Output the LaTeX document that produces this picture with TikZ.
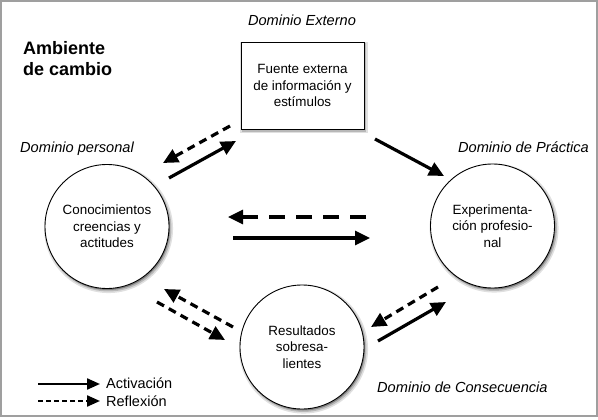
\documentclass[tikz,border=0pt]{standalone}
\usepackage{fontspec}
\setmainfont{Liberation Sans}
\usetikzlibrary{arrows.meta,shadows}
\begin{document}
\begin{tikzpicture}[x=1pt,y=-1pt,
  bodytext/.style={font=\fontsize{13.4}{16.5}\selectfont, align=center},
  dom/.style={font=\fontsize{14.6}{17}\selectfont\itshape, inner sep=0pt},
  shad/.style={
    drop shadow={shadow xshift=1.5pt,shadow yshift=-2pt,opacity=0.12,fill=black,shadow scale=1.04},
    drop shadow={shadow xshift=1.5pt,shadow yshift=-2pt,opacity=0.18,fill=black,shadow scale=1.015},
    drop shadow={shadow xshift=1pt,shadow yshift=-1.5pt,opacity=0.3,fill=black}},
  circ/.style={circle, draw, line width=0.9pt, fill=white, minimum size=124pt, inner sep=0pt, shad, bodytext},
  tip/.style={-{Triangle[length=15pt,width=14pt]}},
  act/.style={line width=3.2pt, tip},
  refl/.style={line width=3.2pt, dash pattern=on 8pt off 5.5pt, tip},
  refllong/.style={line width=3.2pt, dash pattern=on 16pt off 11pt, tip}
]
\useasboundingbox (0,0) rectangle (598,420);
\draw[gray!75, line width=1.4pt] (1,1) rectangle (597,416);

% title
\node[anchor=base west, align=left, inner sep=0pt, font=\fontsize{18}{21}\selectfont\bfseries] (amb) at (23,76) {Ambiente\\de cambio};

% domain labels
\node[dom, anchor=base] (dext) at (302,26) {Dominio Externo};
\node[dom, anchor=base west] (dper) at (20,153) {Dominio personal};
\node[dom, anchor=base east] (dpra) at (589,153) {Dominio de Práctica};
\node[dom, anchor=base west] (dcon) at (377,392) {Dominio de Consecuencia};

% box
\node[draw, line width=0.9pt, fill=white, shad, bodytext, minimum width=123pt, minimum height=87pt, inner sep=0pt] (fuente) at (302.5,85.5) {Fuente externa\\de información y\\estímulos};

% circles
\node[circ] (con) at (107,226.5) {Conocimientos\\creencias y\\actitudes};
\node[circ] (exp) at (492.5,226) {Experimenta-\\ción profesio-\\nal};
\node[circ] (res) at (302,347) {Resultados\\sobresa-\\lientes};

% arrow endpoints
\coordinate (a1s) at (230,126); \coordinate (a1e) at (163,163);
\coordinate (a2s) at (169,178); \coordinate (a2e) at (236,141);
\coordinate (a3s) at (375,139); \coordinate (a3e) at (444,176);
\coordinate (a4s) at (366,217); \coordinate (a4e) at (228,217);
\coordinate (a5s) at (233,238); \coordinate (a5e) at (370,238);
\coordinate (a6s) at (233,327); \coordinate (a6e) at (164,289);
\coordinate (a7s) at (157,302); \coordinate (a7e) at (225,340);
\coordinate (a8s) at (438,287); \coordinate (a8e) at (371,327);
\coordinate (a9s) at (378,341); \coordinate (a9e) at (446,302);

\draw[refl] (a1s) -- (a1e);
\draw[act] (a2s) -- (a2e);
\draw[act] (a3s) -- (a3e);
\draw[refllong] (a4s) -- (a4e);
\draw[act] (a5s) -- (a5e);
\draw[refl] (a6s) -- (a6e);
\draw[refl] (a7s) -- (a7e);
\draw[refl] (a8s) -- (a8e);
\draw[act] (a9s) -- (a9e);

% legend
\coordinate (l1s) at (38,384); \coordinate (l1e) at (100,384);
\coordinate (l2s) at (38,401); \coordinate (l2e) at (100,401);
\draw[line width=2.2pt, -{Triangle[length=13pt,width=11pt]}] (l1s) -- (l1e);
\draw[line width=2.2pt, dash pattern=on 5pt off 3pt, -{Triangle[length=13pt,width=11pt]}] (l2s) -- (l2e);
\node[anchor=base west, inner sep=0pt, font=\fontsize{14.5}{17}\selectfont] (lact) at (106,388) {Activación};
\node[anchor=base west, inner sep=0pt, font=\fontsize{14.5}{17}\selectfont] (lref) at (106,406) {Reflexión};
\end{tikzpicture}
\end{document}
